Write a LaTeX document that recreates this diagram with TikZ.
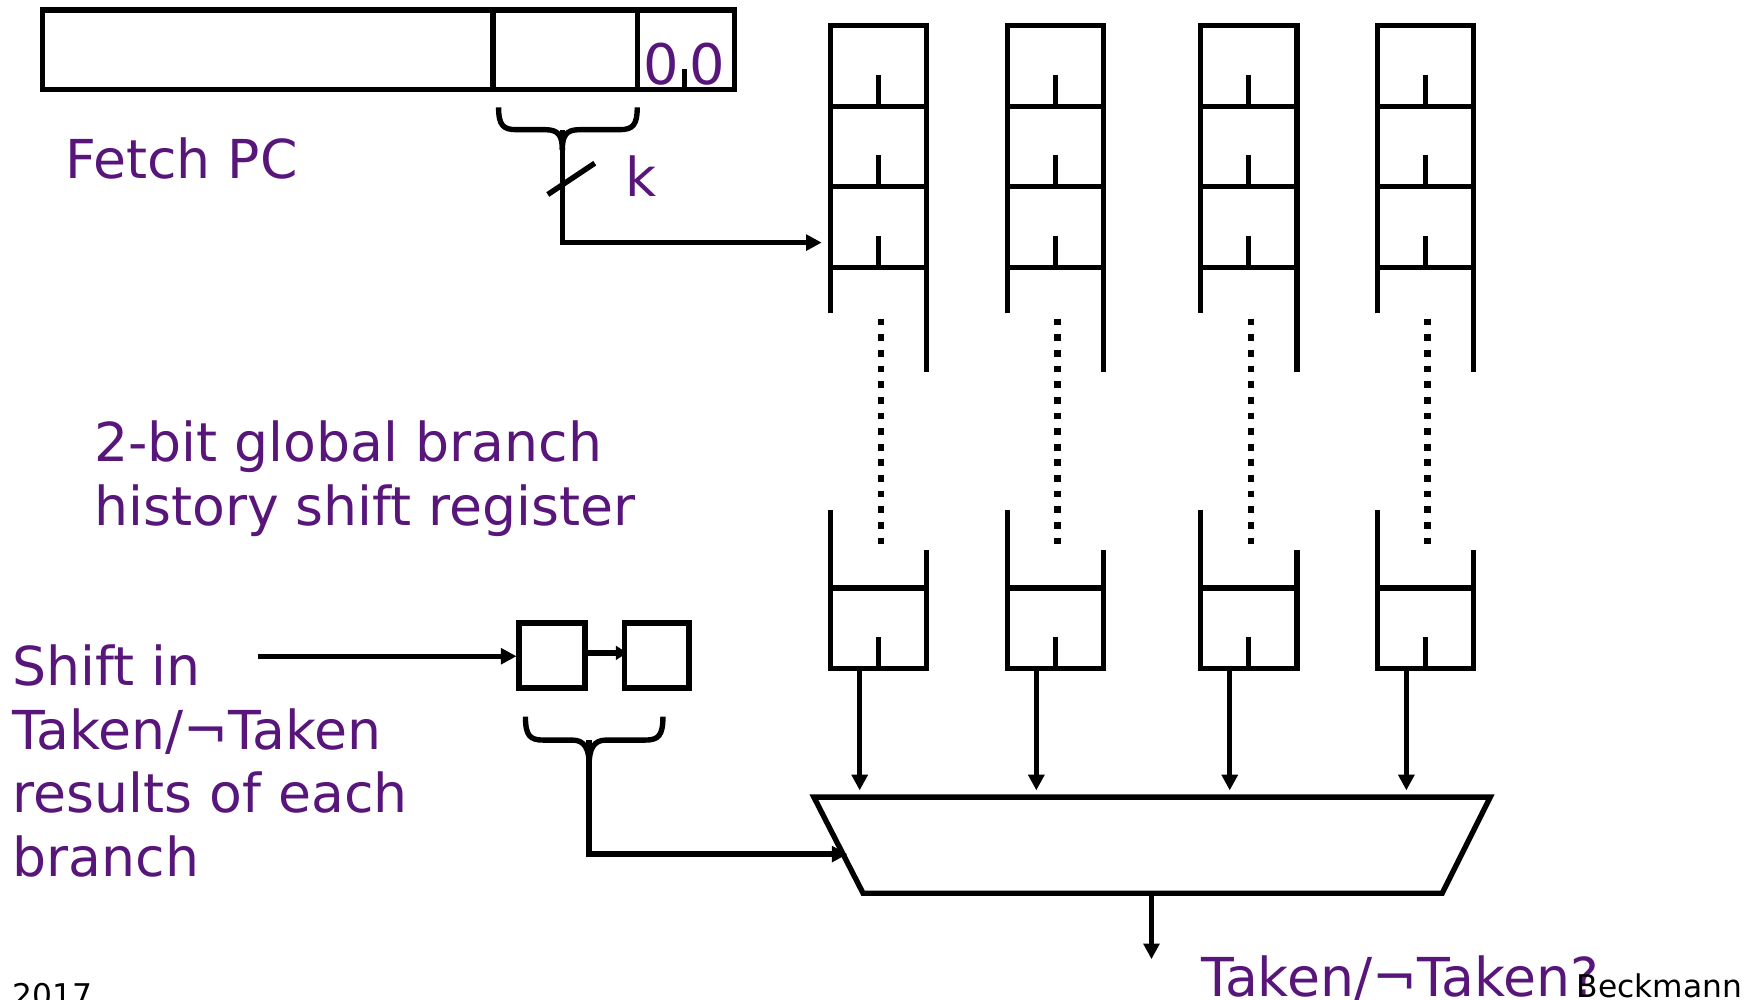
\documentclass[tikz,border=0pt]{standalone}
\usepackage{fontspec}
\setmainfont{DejaVu Sans}
\usetikzlibrary{arrows.meta}
\definecolor{uwpurple}{RGB}{88,22,122}
\begin{document}
\begin{tikzpicture}[x=0.5pt,y=-0.5pt,line width=2.4pt,line join=miter,
  arr/.style={-{Triangle[length=7pt,width=7pt]}},
  smallarr/.style={-{Triangle[length=5pt,width=6pt]}},
  lbl/.style={text=uwpurple,font=\fontsize{24}{28.5}\selectfont,inner sep=0pt,anchor=base west},
  digit/.style={text=uwpurple,font=\fontsize{25}{28}\selectfont,inner sep=0pt,anchor=base west},
  foot/.style={text=black,font=\fontsize{14}{16}\selectfont,inner sep=0pt,anchor=base west},
  dotline/.style={line width=3pt,dash pattern=on 3pt off 4pt}]
\useasboundingbox (0,0) rectangle (1560,894);

% Fetch PC register
\draw (38,9) rectangle (657,80);
\draw (441,9) -- (441,80);
\draw (570,9) -- (570,80);
\draw (612,62) -- (612,80);
\node[digit] (z1) at (573,76) {0};
\node[digit] (z2) at (614,76) {0};
\node[lbl] (fetch) at (56,160) {Fetch PC};

% brace under index bits
\draw (446,96) .. controls (446,112) and (450,116) .. (462,116) -- (488,116)
      .. controls (500,116) and (503,122) .. (503,134);
\draw (570,96) .. controls (570,112) and (566,116) .. (554,116) -- (518,116)
      .. controls (506,116) and (503,122) .. (503,134);
\coordinate (kbr) at (503,116);
\coordinate (kend) at (735,217);
\draw[arr] (kbr) |- (kend);
\draw (490,174) -- (532,146);
\node[lbl] (k) at (557,176) {k};

% pattern history table columns
\foreach \L/\i in {743/a,901/b,1074/c,1232/d}{
  \draw (\L,280) -- (\L,23) -- (\L+86,23) -- (\L+86,333);
  \foreach \b in {95,167,239}{
    \draw (\L,\b) -- (\L+86,\b);
    \draw (\L+43,\b-28) -- (\L+43,\b);
  }
  \draw[dotline] (\L+45,285) -- (\L+45,492);
  \draw (\L,456) -- (\L,598) -- (\L+86,598) -- (\L+86,492);
  \draw (\L,526) -- (\L+86,526);
  \draw (\L+43,570) -- (\L+43,598);
  \coordinate (out\i) at (\L+26,598);
  \coordinate (in\i) at (\L+26,707);
  \draw[arr] (out\i) -- (in\i);
}

% mux
\coordinate (m1) at (728,713);
\coordinate (m2) at (1333,713);
\coordinate (m3) at (1290,799);
\coordinate (m4) at (772,799);
\draw (m1) -- (m2) -- (m3) -- (m4) -- cycle;
\coordinate (mout) at (1030,799);
\coordinate (mend) at (1030,858);
\draw[arr] (mout) -- (mend);

% global history register
\node[lbl] (g1) at (82,413) {2-bit global branch};
\node[lbl] (g2) at (82,470) {history shift register};
\node[draw,minimum width=29.5pt,minimum height=29pt,inner sep=0pt,anchor=north west] (h1) at (462,555) {};
\node[draw,minimum width=29pt,minimum height=29pt,inner sep=0pt,anchor=north west] (h2) at (556,555) {};
\coordinate (sin) at (231,587);
\draw[arr] (sin) -- (h1.west |- sin);
\coordinate (a1) at (524,584);
\coordinate (a2) at (561,584);
\draw[smallarr] (a1) -- (a2);

% brace under history
\draw (470,641) .. controls (470,658) and (474,662) .. (486,662) -- (512,662)
      .. controls (523,662) and (527,670) .. (527,684);
\draw (593,641) .. controls (593,658) and (589,662) .. (577,662) -- (542,662)
      .. controls (531,662) and (527,670) .. (527,684);
\coordinate (hbr) at (527,662);
\coordinate (hend) at (758,764);
\draw[arr] (hbr) |- (hend);

% left labels
\node[lbl] (s1) at (9,613) {Shift in};
\node[lbl] (s2) at (9,670) {Taken/¬Taken};
\node[lbl] (s3) at (9,727) {results of each};
\node[lbl] (s4) at (9,784) {branch};

% output label and footer
\node[lbl] (res) at (1072,891) {Taken/¬Taken?};
\node[foot] (auth) at (1408,892) {Beckmann};
\node[foot] (year) at (9,900) {2017};
\end{tikzpicture}
\end{document}
